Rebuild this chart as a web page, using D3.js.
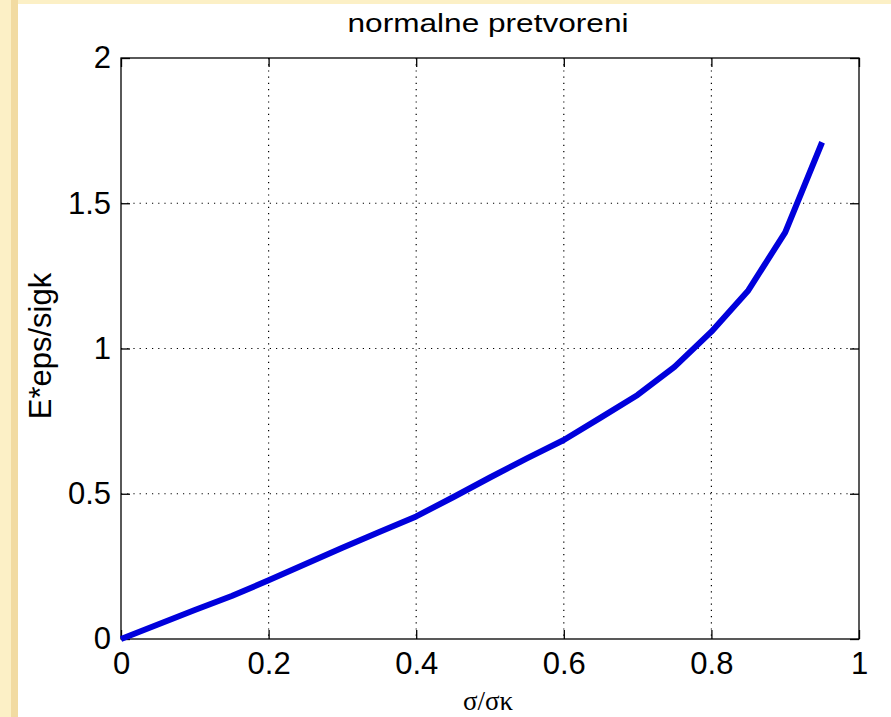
<!DOCTYPE html>
<html>
<head>
<meta charset="utf-8">
<script src="https://cdn.jsdelivr.net/npm/d3@7"></script>
<style>
  body { margin: 0; background: #fcf0c6; }
  svg { display: block; }
  .tick text { font-family: "Liberation Sans", Arial, sans-serif; }
</style>
</head>
<body>
<svg id="chart" width="891" height="717"></svg>
<script>
// stress ratio sigma/sigma_k
const ratio = [0, 0.05, 0.1, 0.15, 0.2, 0.25, 0.3, 0.35, 0.4, 0.45,
  0.5, 0.55, 0.6, 0.65, 0.7, 0.75, 0.8, 0.85, 0.9, 0.95];
// E*eps/sigk
const strain = [0, 0.05, 0.1, 0.148, 0.202, 0.258, 0.314, 0.368, 0.422, 0.488,
  0.556, 0.622, 0.685, 0.762, 0.84, 0.937, 1.058, 1.2, 1.4, 1.71];

const xTicks = [0, 0.2, 0.4, 0.6, 0.8, 1];
const yTicks = [0, 0.5, 1, 1.5, 2];

const svg = d3.select("#chart");

// slide background strip + white figure
svg.append("rect").attr("x", 11).attr("y", 0).attr("width", 7).attr("height", 717)
  .attr("fill", "#f2dba2");
svg.append("rect").attr("x", 18).attr("y", 4).attr("width", 873).attr("height", 713)
  .attr("fill", "#fff");

const m = { left: 121, right: 859, top: 58, bottom: 639 };

const x = d3.scaleLinear().domain([0, 1]).range([m.left, m.right]);
const y = d3.scaleLinear().domain([0, 2]).range([m.bottom, m.top]);

const fmt = d => d3.format("")(d);

// grid
const grid = svg.append("g").attr("stroke", "#000").attr("stroke-width", 1.2)
  .attr("stroke-dasharray", "1.2,5");
grid.selectAll(".gx").data(xTicks.slice(1, -1)).join("line")
  .attr("x1", d => x(d)).attr("x2", d => x(d))
  .attr("y1", m.top).attr("y2", m.bottom);
grid.selectAll(".gy").data(yTicks.slice(1, -1)).join("line")
  .attr("y1", d => y(d)).attr("y2", d => y(d))
  .attr("x1", m.left).attr("x2", m.right);

// axes (ticks pointing inward, mirrored on top/right)
const tickLen = 9;
const xAxis = svg.append("g").attr("transform", `translate(0,${m.bottom})`)
  .call(d3.axisBottom(x).tickValues(xTicks).tickFormat(fmt)
    .tickSizeInner(-tickLen).tickSizeOuter(0).tickPadding(13));
const yAxis = svg.append("g").attr("transform", `translate(${m.left},0)`)
  .call(d3.axisLeft(y).tickValues(yTicks).tickFormat(fmt)
    .tickSizeInner(-tickLen).tickSizeOuter(0).tickPadding(10));
svg.append("g").attr("transform", `translate(0,${m.top})`)
  .call(d3.axisTop(x).tickValues(xTicks).tickFormat("")
    .tickSizeInner(-tickLen).tickSizeOuter(0));
svg.append("g").attr("transform", `translate(${m.right},0)`)
  .call(d3.axisRight(y).tickValues(yTicks).tickFormat("")
    .tickSizeInner(-tickLen).tickSizeOuter(0));

svg.selectAll(".domain").remove();
svg.selectAll(".tick line").attr("stroke", "#000").attr("stroke-width", 1.3);
xAxis.selectAll(".tick text").attr("font-size", 31).attr("fill", "#000");
yAxis.selectAll(".tick text").attr("font-size", 31).attr("fill", "#000")
  .attr("dy", "0.32em");

// frame
svg.append("rect").attr("x", m.left).attr("y", m.top)
  .attr("width", m.right - m.left).attr("height", m.bottom - m.top)
  .attr("fill", "none").attr("stroke", "#000").attr("stroke-width", 1.3);

// curve
const line = d3.line().x((d, i) => x(ratio[i])).y(d => y(d));
svg.append("path").datum(strain)
  .attr("d", line)
  .attr("fill", "none")
  .attr("stroke", "#0000dc")
  .attr("stroke-width", 6)
  .attr("stroke-linejoin", "round");

// title and labels
svg.append("text").attr("x", 488).attr("y", 32)
  .attr("text-anchor", "middle")
  .attr("font-family", "Liberation Sans, Arial, sans-serif")
  .attr("font-size", 25)
  .attr("textLength", 281).attr("lengthAdjust", "spacingAndGlyphs")
  .text("normalne pretvoreni");

svg.append("text")
  .attr("transform", "translate(51,346) rotate(-90)")
  .attr("text-anchor", "middle")
  .attr("font-family", "Liberation Sans, Arial, sans-serif")
  .attr("font-size", 31)
  .text("E*eps/sigk");

svg.append("text").attr("x", 488).attr("y", 710)
  .attr("text-anchor", "middle")
  .attr("font-family", "Liberation Serif, Times New Roman, serif")
  .attr("font-size", 27)
  .text("σ/σκ");
</script>
</body>
</html>
